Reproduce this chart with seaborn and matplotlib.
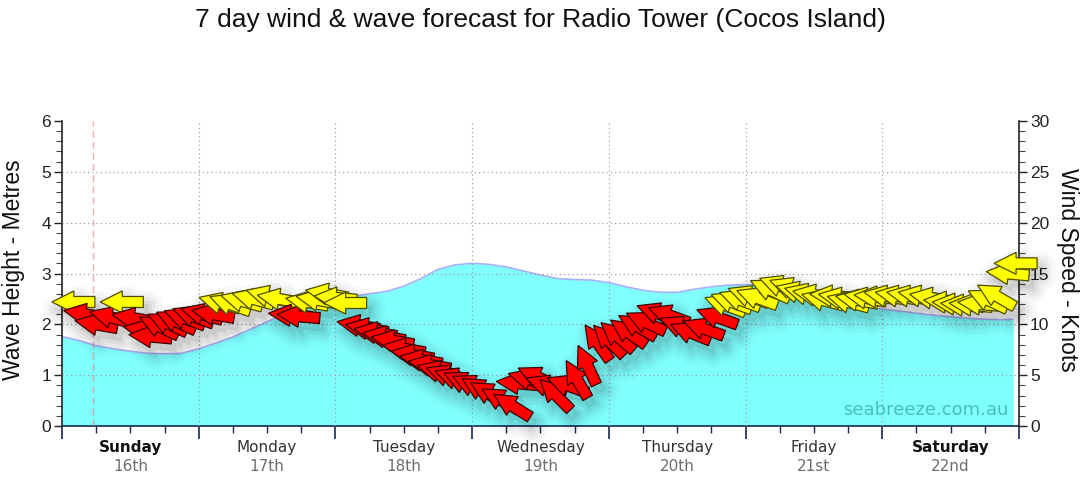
import numpy as np
import matplotlib
matplotlib.use("Agg")
import matplotlib.pyplot as plt
import seaborn as sns
from matplotlib.patches import Polygon, PathPatch
from matplotlib.path import Path
from matplotlib.transforms import IdentityTransform
from matplotlib.ticker import MultipleLocator

# ---------------- data ----------------
title = "7 day wind & wave forecast for Radio Tower (Cocos Island)"
day_names = ["Sunday", "Monday", "Tuesday", "Wednesday", "Thursday", "Friday", "Saturday"]
day_dates = ["16th", "17th", "18th", "19th", "20th", "21st", "22nd"]
day_bold = [True, False, False, False, False, False, True]
now_hour = 5.4

wave_hours = [0, 3, 6, 9, 12, 15, 18, 21, 24, 27, 30, 33, 36, 39, 42, 45, 48, 51,
              54, 57, 60, 63, 66, 69, 72, 75, 78, 81, 84, 87, 90, 93, 96, 99,
              102, 105, 108, 111, 114, 117, 120, 123, 126, 129, 132, 135, 138,
              141, 144, 147, 150, 153, 156, 159, 162, 165, 167]
wave_m = [1.76, 1.68, 1.58, 1.52, 1.47, 1.43, 1.42, 1.43, 1.52, 1.63, 1.75, 1.90,
          2.05, 2.20, 2.33, 2.45, 2.52, 2.55, 2.60, 2.65, 2.75, 2.90, 3.08, 3.17,
          3.20, 3.18, 3.13, 3.05, 2.97, 2.90, 2.88, 2.87, 2.82, 2.74, 2.67, 2.63,
          2.63, 2.69, 2.74, 2.77, 2.78, 2.79, 2.79, 2.75, 2.65, 2.52, 2.42, 2.35,
          2.30, 2.26, 2.22, 2.18, 2.15, 2.12, 2.10, 2.09, 2.10]

wind_hours = [2, 4, 6, 8.5, 10.5, 12.5, 14.5, 15.5, 17, 18.5, 20, 21.5, 23, 24.5, 26.5,
              27.7, 29.5, 31.5, 33.5, 36, 38, 40, 41.5, 43, 44.8, 46.5, 48, 49.7,
              52, 53.5, 55, 56.5, 58, 60, 61.5, 63, 64.5, 66, 67.5, 69, 70.5, 72, 73.5, 75, 77, 79,
              80, 82, 83.5, 85, 86.6, 88.7, 90.4, 92.2, 94, 96,
              97.5, 99.4, 101, 102.5, 104.5, 106.5, 108.5, 110.3, 112.6, 115, 116.4, 117.5,
              119, 120.5, 122, 124.3, 126, 127.8, 129, 130.5, 132, 133.5, 135, 136.5, 138,
              139.5, 141, 142.8,
              144.5, 146.5, 148.5, 150.5, 152.5, 155, 156.5, 158, 159.5, 161, 162.5, 164, 166, 167.4]
wind_knots = [12.2, 11.0, 10.0, 10.7, 12.2, 10.6, 9.4, 8.8, 9.8, 10.1, 10.3, 10.6, 10.8, 11.0, 11.0,
              12.1, 12.0, 12.3, 12.5, 12.8, 12.5, 10.9, 10.8, 12.2, 12.4, 13.0, 12.6, 12.1,
              9.9, 9.6, 9.2, 8.8, 8.4, 7.6, 7.0, 6.5, 6.0, 5.4, 5.0, 4.7, 4.3, 4.0, 3.6, 3.2, 2.6, 2.0,
              4.2, 4.6, 4.8, 4.0, 3.1, 4.0, 4.6, 6.0, 8.2, 8.4,
              8.8, 9.2, 9.8, 10.2, 11.1, 10.9, 9.8, 9.2, 9.6, 10.7, 11.9, 12.2,
              12.4, 12.8, 12.6, 13.4, 13.8, 13.6, 13.2, 13.0, 12.9, 12.4, 12.8, 12.6, 12.2,
              12.4, 12.6, 12.7,
              12.8, 12.8, 12.8, 12.8, 12.6, 12.2, 12.0, 11.9, 11.9, 12.0, 12.4, 12.8, 15.0, 16.0]
wind_dir = [90, 100, 100, 105, 90, 100, 100, 95, 115, 115, 115, 110, 110, 105, 100,
            105, 110, 105, 105, 105, 100, 95, 95, 100, 100, 100, 95, 90,
            100, 100, 100, 100, 100, 100, 100, 100, 100, 105, 110, 110, 115, 115, 120, 120, 120, 122,
            95, 105, 115, 110, 135, 110, 150, 155, 145, 135,
            130, 125, 120, 115, 110, 110, 112, 112, 110, 110, 110, 110,
            110, 110, 110, 115, 110, 110, 105, 105, 100, 105, 95, 100, 105,
            100, 100, 95,
            100, 100, 100, 100, 100, 95, 95, 95, 95, 95, 115, 120, 95, 90]
wind_col = ["Y", "R", "R", "R", "Y", "R", "R", "R", "R", "R", "R", "R", "R", "R", "R",
            "Y", "Y", "Y", "Y", "Y", "Y", "R", "R", "Y", "Y", "Y", "Y", "Y",
            "R", "R", "R", "R", "R", "R", "R", "R", "R", "R", "R", "R", "R", "R", "R", "R", "R", "R",
            "R", "R", "R", "R", "R", "R", "R", "R", "R", "R",
            "R", "R", "R", "R", "R", "R", "R", "R", "R", "R", "Y", "Y",
            "Y", "Y", "Y", "Y", "Y", "Y", "Y", "Y", "Y", "Y", "Y", "Y", "Y",
            "Y", "Y", "Y",
            "Y", "Y", "Y", "Y", "Y", "Y", "Y", "Y", "Y", "Y", "Y", "Y", "Y", "Y"]

fill_col = {"Y": "#ffff00", "R": "#ff0000"}
edge_col = {"Y": "#4d4d00", "R": "#3a0000"}

# ---------------- figure ----------------
sns.set_theme(style="white")
plt.rcParams['font.family'] = ['DejaVu Sans']
sans = ["Liberation Sans", "DejaVu Sans"]

W, H, DPI = 1080, 490, 100
fig = plt.figure(figsize=(W / DPI, H / DPI), dpi=DPI)
fig.patch.set_facecolor("white")
ax = fig.add_axes([62 / W, 64 / H, 957 / W, 305 / H])
ax.set_facecolor("white")
ax2 = ax.twinx()

ax.set_xlim(0, 168)
ax.set_ylim(0, 6)
ax2.set_ylim(0, 30)
ax.set_autoscale_on(False)
ax2.set_autoscale_on(False)

# wave area
ax.fill_between(wave_hours, 0, wave_m, color="#80ffff", lw=0, zorder=1)
sns.lineplot(x=wave_hours, y=wave_m, ax=ax, color="#a8b2f8", lw=1.2, zorder=2)

# grid
grid_kw = dict(color="#a0a0a0", lw=0.9, ls=(0, (1, 2.4)), zorder=3)
for yv in [1, 2, 3, 4, 5]:
    ax.axhline(yv, **grid_kw)
for xv in [24, 48, 72, 96, 120, 144]:
    ax.axvline(xv, **grid_kw)
ax.axvline(now_hour, color="#f07878", alpha=0.6, lw=1.0, ls=(0, (5, 3)), zorder=3)

# axes styling
for s in ["top", "right"]:
    ax.spines[s].set_visible(False)
for s in ["top", "left", "bottom"]:
    ax2.spines[s].set_visible(False)
ax.spines["left"].set_color("#222222")
ax.spines["bottom"].set_color("#1a2a55")
ax2.spines["right"].set_color("#222222")
for sp in [ax.spines["left"], ax.spines["bottom"], ax2.spines["right"]]:
    sp.set_linewidth(1.2)

ax.set_yticks([0, 1, 2, 3, 4, 5, 6])
ax.yaxis.set_minor_locator(MultipleLocator(0.2))
ax2.set_yticks([0, 5, 10, 15, 20, 25, 30])
ax2.yaxis.set_minor_locator(MultipleLocator(1))
ax.set_xticks([0, 24, 48, 72, 96, 120, 144, 168])
ax.xaxis.set_minor_locator(MultipleLocator(6))
ax.set_xticklabels([])

ax.tick_params(axis="y", which="major", direction="out", length=6, width=1, color="#222222",
               labelsize=12.5, labelcolor="#222222", pad=2, left=True)
ax.tick_params(axis="y", which="minor", direction="out", length=4, width=0.8, color="#444444", left=True)
ax2.tick_params(axis="y", which="major", direction="out", length=6, width=1, color="#222222",
                labelsize=12.5, labelcolor="#222222", pad=2, right=True)
ax2.tick_params(axis="y", which="minor", direction="out", length=4, width=0.8, color="#444444", right=True)
ax.tick_params(axis="x", which="major", direction="out", length=9, width=1.2, color="#1a2a55", bottom=True)
ax.tick_params(axis="x", which="minor", direction="out", length=5, width=1, color="#1a2a55", bottom=True)
for lab in ax.get_yticklabels() + ax2.get_yticklabels():
    lab.set_family(sans)
ax.grid(False)
ax2.grid(False)

# day labels
xt = ax.get_xaxis_transform()
for i, (nm, dt, b) in enumerate(zip(day_names, day_dates, day_bold)):
    ax.text(12 + 24 * i, -0.069, nm, transform=xt, ha="center", va="center", fontsize=11,
            fontweight="bold" if b else "normal", color="#111111" if b else "#333333")
    ax.text(12 + 24 * i, -0.134, dt, transform=xt, ha="center", va="center", fontsize=11,
            color="#6e6e6e")

# watermark
ax.text(0.9885, 0.052, "seabreeze.com.au", transform=ax.transAxes, ha="right", va="center",
        fontsize=13, color="#45c0c0", zorder=4)

# titles
fig.text(0.5, (H - 20) / H, title, ha="center", va="center", fontsize=19,
         family=sans, color="#111111")
fig.text(14 / W, (H - 270) / H, "Wave Height - Metres", rotation=90, ha="center", va="center",
         fontsize=16.5, family=sans, color="#111111")
fig.text(1068 / W, (H - 270) / H, "Wind Speed - Knots", rotation=270, ha="center", va="center",
         fontsize=16.5, family=sans, color="#111111")

# ---------------- wind arrows ----------------
L, HL, HW, TW = 43.0, 22.0, 11.0, 5.5
base = np.array([(L / 2, 0), (L / 2 - HL, HW), (L / 2 - HL, TW), (-L / 2, TW),
                 (-L / 2, -TW), (L / 2 - HL, -TW), (L / 2 - HL, -HW)])

centers = ax2.transData.transform(np.column_stack([wind_hours, wind_knots]))
shapes = []
for (cx, cy), d in zip(centers, wind_dir):
    th = np.radians(270 - d)
    R = np.array([[np.cos(th), -np.sin(th)], [np.sin(th), np.cos(th)]])
    shapes.append(base @ R.T + np.array([cx, cy]))

# soft drop shadow as a union path
sh_off = np.array([5.0, -8.0])
verts, codes = [], []
for s in shapes:
    pts = s + sh_off
    verts.extend(list(pts) + [pts[0]])
    codes.extend([Path.MOVETO] + [Path.LINETO] * (len(pts) - 1) + [Path.CLOSEPOLY])
shadow_path = Path(np.array(verts), codes)
for lw, a in [(20, 0.022), (15, 0.03), (10, 0.04), (5, 0.05)]:
    ax2.add_patch(PathPatch(shadow_path, transform=IdentityTransform(), facecolor="none",
                            edgecolor="black", lw=lw, alpha=a, joinstyle="round",
                            clip_on=False, zorder=5))
ax2.add_patch(PathPatch(shadow_path, transform=IdentityTransform(), facecolor="black",
                        edgecolor="none", alpha=0.07, clip_on=False, zorder=5))

for s, c in zip(shapes, wind_col):
    ax2.add_patch(Polygon(s, closed=True, transform=IdentityTransform(), facecolor=fill_col[c],
                          edgecolor=edge_col[c], lw=0.9, joinstyle="miter", clip_on=False, zorder=6))

fig.savefig("out.png", dpi=DPI, facecolor="white")
